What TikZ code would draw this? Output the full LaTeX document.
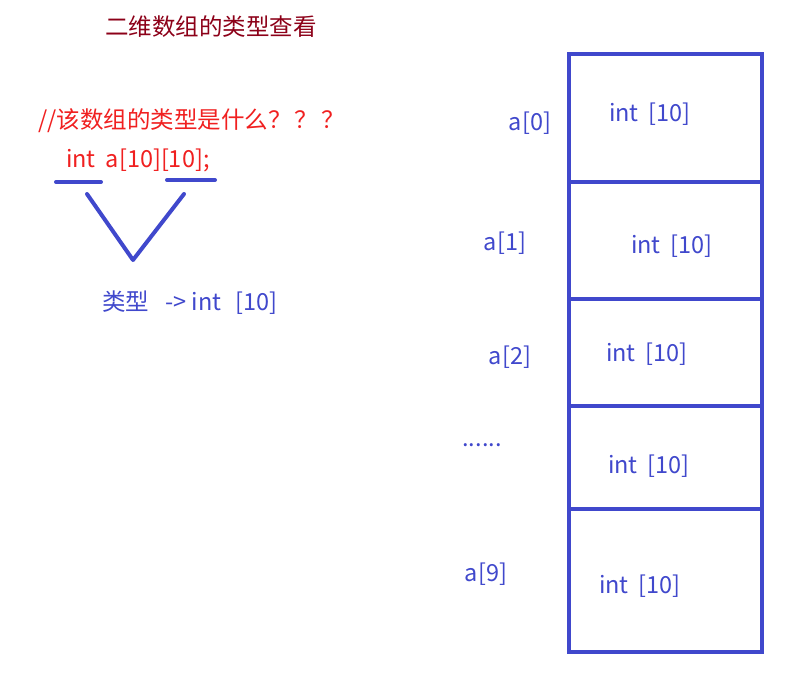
\documentclass[tikz,border=0pt]{standalone}
\usepackage{fontspec}
\setmainfont{Noto Sans CJK SC}
\definecolor{arrblue}{RGB}{64,72,204}
\definecolor{titlered}{RGB}{140,0,24}
\definecolor{notered}{RGB}{240,32,32}
\newcommand{\gap}{\hspace{10pt}}
\begin{document}
\begin{tikzpicture}[x=1pt,y=-1pt,font=\fontsize{23.5}{27}\selectfont,
  cell/.style={draw=arrblue,line width=4pt,minimum width=193pt,anchor=north west,inner sep=0pt},
  lbl/.style={text=arrblue,inner sep=0pt},
  stroke/.style={draw=arrblue,line width=4pt,line cap=round,line join=round}]
\useasboundingbox (0,0) rectangle (803,672);
% left side: the declaration
\node[text=titlered,inner sep=0pt] (title) at (211,27) {二维数组的类型查看};
\node[text=notered,inner sep=0pt,anchor=west] (note) at (38,121) {//该数组的类型是什么？\hspace{3pt}？\hspace{3pt}？};
\node[text=notered,inner sep=0pt,anchor=west] (decl) at (66,160) {int\gap a[10][10];};
\coordinate (u1) at (56,182);
\coordinate (u2) at (101,182);
\coordinate (u3) at (167,180);
\coordinate (u4) at (215,180);
\coordinate (vl) at (87,194);
\coordinate (vb) at (133,260);
\coordinate (vr) at (184,194);
\draw[stroke] (u1) -- (u2);
\draw[stroke] (u3) -- (u4);
\draw[stroke] (vl) -- (vb) -- (vr);
\node[lbl,anchor=west] (kind) at (102,303) {类型\hspace{16pt}-> int\hspace{14pt}[10]};
% right side: the rows
\node[cell,minimum height=128pt] (c0) at (567,52) {};
\node[cell,minimum height=117pt] (c1) at (567,180) {};
\node[cell,minimum height=107pt] (c2) at (567,297) {};
\node[cell,minimum height=103pt] (c3) at (567,404) {};
\node[cell,minimum height=143pt] (c9) at (567,507) {};
\node[lbl] (t0) at (650,114) {int\gap[10]};
\node[lbl] (t1) at (672,246) {int\gap[10]};
\node[lbl] (t2) at (647,354) {int\gap[10]};
\node[lbl] (t3) at (649,466) {int\gap[10]};
\node[lbl] (t9) at (640,586) {int\gap[10]};
\node[lbl] (a0) at (530,123) {a[0]};
\node[lbl] (a1) at (505,243) {a[1]};
\node[lbl] (a2) at (510,357) {a[2]};
\node[lbl] (ad) at (482,445) {......};
\node[lbl] (a9) at (486,574) {a[9]};
\end{tikzpicture}
\end{document}
